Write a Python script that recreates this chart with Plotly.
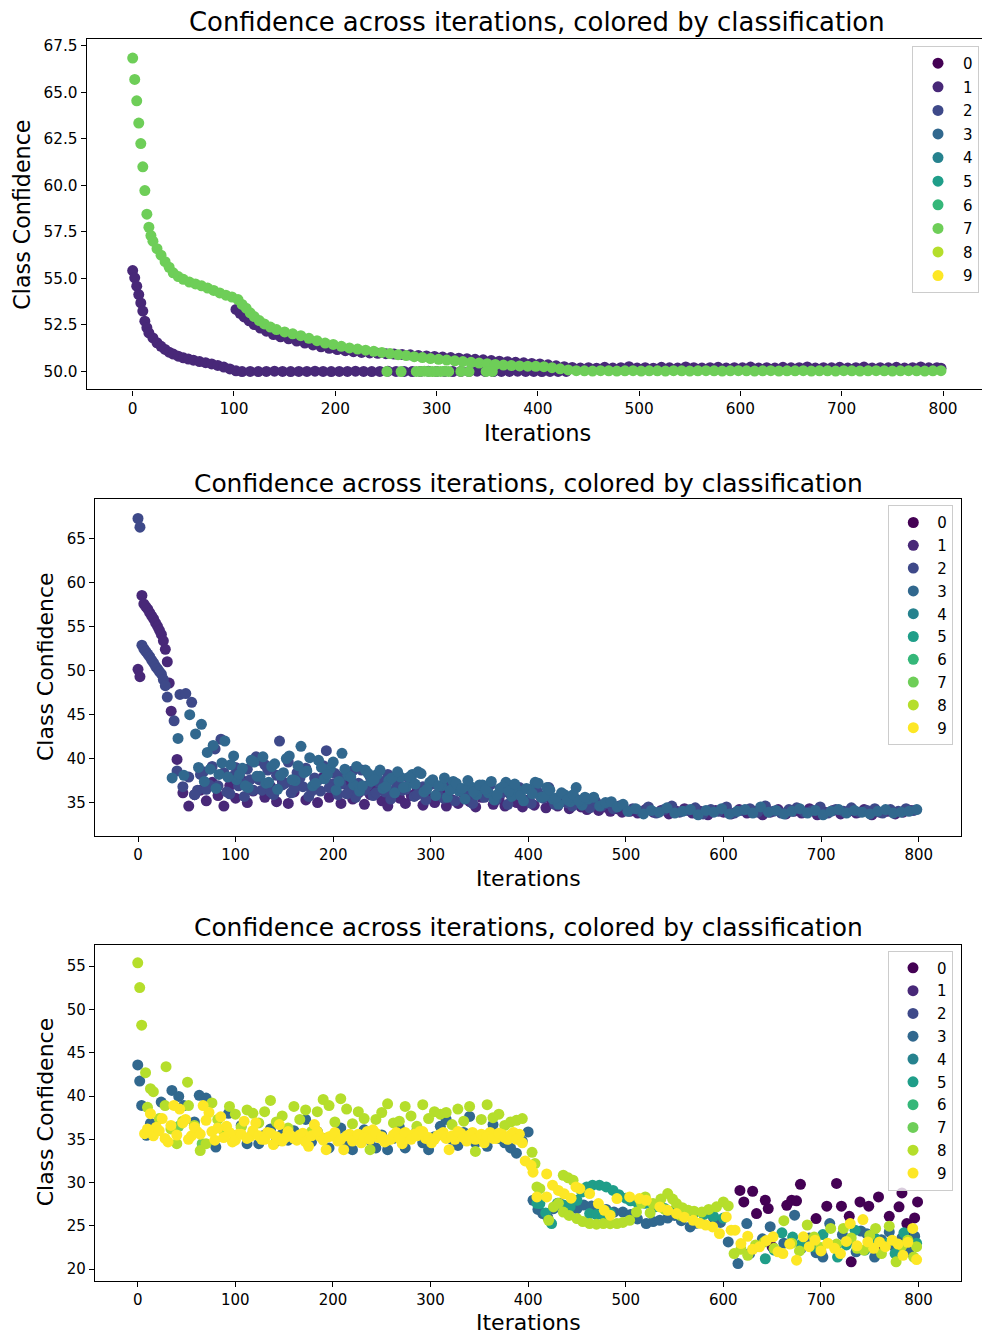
import plotly.graph_objects as go

W, H = 982, 1338
COLORS = ['#440154', '#482878', '#3e4989', '#31688e', '#26828e',
          '#1f9e89', '#35b779', '#6ece58', '#b5de2b', '#fde725']
CLASSES = [str(i) for i in range(10)]
TITLE = "Confidence across iterations, colored by classification"

# ---------------- Panel 1 ----------------
P1_C1_X = ([0, 2, 4, 6, 8, 10, 12, 14, 16, 20, 24, 28, 32, 36, 40, 45, 50, 55, 60, 66, 72, 78, 84, 90, 96, 102, 108]
           + list(range(116, 432, 8))
           + [102, 106, 110, 115, 120, 126, 132, 139, 146, 154, 162, 170, 178, 186, 194, 202, 210, 218, 226, 234,
              242, 250, 258, 266, 274, 282, 290, 298, 306, 314, 322, 330, 338, 346, 354, 362, 370, 378, 386, 394,
              402, 410, 418, 426, 434]
           + list(range(442, 800, 8)) + [798])
P1_C1_Y = ([55.42, 55.03, 54.58, 54.13, 53.68, 53.24, 52.7, 52.35, 52.07, 51.8, 51.54, 51.35, 51.18, 51.03, 50.93,
            50.82, 50.73, 50.66, 50.6, 50.53, 50.47, 50.4, 50.32, 50.23, 50.13, 50.03, 49.99]
           + [50.0, 49.99, 50.0, 50.01, 50.0, 49.99, 50.0, 50.0, 50.01, 50.0,
              49.99, 50.0, 50.0, 50.01, 50.0, 49.99, 50.0, 50.01, 50.0, 50.0,
              49.99, 50.0, 50.01, 50.0, 50.0, 49.99, 50.0, 50.0, 50.01, 50.0,
              49.99, 50.0, 50.0, 50.01, 50.0, 50.0, 49.99, 50.0, 50.0, 50.0]
           + [53.33, 53.12, 52.93, 52.72, 52.52, 52.33, 52.16, 51.98, 51.86, 51.75,
              51.63, 51.52, 51.42, 51.32, 51.24, 51.17, 51.11, 51.06, 51.02, 50.99,
              50.97, 50.95, 50.93, 50.91, 50.89, 50.86, 50.83, 50.8, 50.77, 50.74,
              50.71, 50.68, 50.65, 50.62, 50.58, 50.55, 50.52, 50.49, 50.46, 50.43,
              50.4, 50.35, 50.3, 50.25, 50.21]
           + [50.18, 50.2, 50.17, 50.22, 50.18, 50.2, 50.25, 50.18, 50.2, 50.17,
              50.22, 50.19, 50.18, 50.24, 50.2, 50.18, 50.2, 50.22, 50.18, 50.2,
              50.19, 50.23, 50.18, 50.2, 50.18, 50.22, 50.19, 50.2, 50.24, 50.18,
              50.2, 50.19, 50.22, 50.18, 50.2, 50.23, 50.18, 50.2, 50.19, 50.22,
              50.18, 50.2, 50.24, 50.19, 50.2, 50.17])

P1_C7_X = ([0, 2, 4, 6, 8, 10, 12, 14, 16, 18, 20, 24, 28, 32, 36, 40, 45, 50, 56, 62, 68, 74, 80, 86, 92, 98,
            104, 108, 112, 116, 120, 125, 130, 136, 142]
           + list(range(150, 446, 8)) + list(range(446, 800, 8))
           + [251, 265, 280, 284, 288, 292, 296, 300, 304, 308, 312, 324, 332, 349, 355])
P1_C7_Y = ([66.85, 65.7, 64.55, 63.35, 62.25, 61.0, 59.72, 58.45, 57.75, 57.3,
            57.0, 56.6, 56.25, 55.9, 55.6, 55.3, 55.1, 54.95, 54.8, 54.7,
            54.6, 54.48, 54.35, 54.22, 54.1, 54.0, 53.86, 53.6, 53.4, 53.15,
            52.95, 52.73, 52.55, 52.38, 52.25]
           + [52.12, 52.02, 51.92, 51.78, 51.65, 51.52, 51.45, 51.35, 51.26, 51.2,
              51.14, 51.08, 51.02, 50.96, 50.9, 50.85, 50.79, 50.74, 50.69, 50.65,
              50.61, 50.57, 50.53, 50.49, 50.45, 50.41, 50.37, 50.34, 50.31, 50.29,
              50.28, 50.27, 50.25, 50.2, 50.14, 50.08, 50.04]
           + [50.03, 50.02, 50.04, 50.03, 50.02, 50.03, 50.04, 50.02, 50.03, 50.03,
              50.02, 50.04, 50.03, 50.02, 50.03, 50.04, 50.03, 50.02, 50.03, 50.04,
              50.03, 50.02, 50.03, 50.04, 50.02, 50.03, 50.03, 50.04, 50.02, 50.03,
              50.03, 50.02, 50.04, 50.03, 50.02, 50.03, 50.04, 50.03, 50.02, 50.03,
              50.04, 50.03, 50.02, 50.03, 50.04]
           + [50.0, 49.99, 50.0, 50.0, 50.01, 50.0, 49.99, 50.0, 50.0, 50.01, 50.0, 50.0, 49.99, 50.0, 50.0])

# ---------------- Panel 2 ----------------
P2_C1_X = [0, 2, 4, 6, 8, 10, 12, 14, 16, 18, 20, 22, 24, 26, 28, 30, 32] + list(range(34, 500, 6)) + list(range(504, 800, 8))
P2_C1_Y = ([50.16, 49.32, 58.57, 57.6, 57.3, 57.0, 56.6, 56.25, 55.9, 55.45, 55.05, 54.6, 54.13, 53.4, 52.43, 51.02, 48.6]
           + [45.4, 39.9, 36.1, 34.6, 35.9, 36.4, 35.2, 37.3, 35.8, 34.6,
              36.9, 35.5, 37.6, 35.0, 36.3, 39.8, 35.6, 36.8, 35.1, 37.4,
              34.9, 36.2, 38.3, 35.3, 36.6, 35.0, 37.9, 35.6, 36.4, 34.9,
              37.0, 35.4, 36.1, 34.8, 35.9, 36.7, 35.2, 34.6, 36.0, 35.5,
              34.9, 35.8, 36.4, 34.7, 35.6, 35.0, 36.2, 34.6, 35.3, 34.9,
              35.9, 35.1, 34.5, 35.6, 36.3, 34.8, 35.4, 34.6, 35.9, 35.0,
              34.5, 35.3, 34.7, 35.8, 34.4, 35.1, 34.6, 35.4, 34.3, 34.9,
              34.5, 34.2, 34.8, 34.1, 34.5, 34.0, 34.3, 33.9]
           + [34.0, 33.8, 34.2, 33.9, 34.1, 33.7, 34.0, 34.3, 33.8, 34.0,
              33.6, 34.1, 33.9, 33.7, 34.2, 33.8, 34.0, 33.6, 33.9, 34.2,
              33.7, 34.0, 33.8, 34.3, 33.6, 33.9, 34.1, 33.7, 34.0, 33.8,
              34.2, 33.6, 33.9, 34.0, 33.7, 33.9, 34.1])

P2_C2_X = ([0, 2, 4, 6, 8, 10, 12, 14, 16, 18, 20, 22, 24, 26, 28, 30] + list(range(37, 499, 6))
           + list(range(507, 800, 8)) + list(range(40, 298, 6)))
P2_C2_Y = ([67.32, 66.33, 52.9, 52.5, 52.2, 51.9, 51.6, 51.2, 50.9, 50.5, 50.2, 49.9, 49.6, 49.0, 48.3, 47.0]
           + [44.3, 47.3, 47.4, 46.4, 36.4, 38.5, 37.0, 41.1, 42.2, 36.2,
              38.0, 36.9, 35.7, 37.6, 40.2, 36.4, 38.7, 35.9, 42.0, 37.2,
              36.1, 38.4, 36.8, 35.7, 37.8, 36.3, 40.9, 37.1, 35.9, 38.0,
              36.5, 35.6, 38.7, 36.9, 35.8, 37.3, 36.2, 35.4, 37.0, 36.4,
              37.8, 35.7, 36.6, 35.3, 37.1, 36.0, 35.5, 36.8, 35.2, 36.3,
              35.8, 34.9, 36.5, 35.6, 37.0, 35.3, 36.1, 34.8, 35.9, 36.7,
              35.2, 34.9, 36.3, 35.5, 36.7, 34.8, 35.6, 35.0, 34.6, 35.3,
              34.9, 34.4, 35.1, 34.6, 34.9, 34.3, 34.6]
           + [34.3, 34.0, 34.5, 33.8, 34.2, 34.6, 33.9, 34.1, 34.4, 33.7,
              34.2, 34.0, 34.5, 33.8, 34.1, 34.3, 33.9, 34.6, 34.0, 33.8,
              34.2, 34.4, 33.9, 34.1, 34.5, 33.8, 34.2, 34.0, 34.4, 33.9,
              34.1, 34.3, 33.8, 34.2, 34.0, 34.3, 34.1]
           + [38.6, 36.8, 37.9, 35.9, 38.2, 36.5, 39.1, 36.9, 38.4, 36.0,
              39.0, 37.3, 38.8, 36.4, 37.6, 39.3, 36.2, 38.1, 37.0, 39.6,
              36.6, 37.8, 38.9, 36.3, 37.5, 39.2, 36.7, 38.3, 37.1, 36.0,
              38.6, 37.2, 36.4, 37.9, 36.1, 37.4, 38.2, 36.3, 37.0, 36.5,
              37.6, 35.9, 36.8])

P2_C3_X = list(range(35, 500, 6)) + list(range(502, 800, 8)) + list(range(62, 460, 6))
P2_C3_Y = ([37.8, 42.3, 38.1, 45.0, 42.8, 43.9, 40.7, 41.5, 38.2, 42.0,
            39.3, 37.6, 38.9, 36.7, 39.6, 38.0, 37.2, 39.1, 36.5, 38.4,
            40.3, 37.5, 41.4, 38.6, 36.9, 39.8, 37.7, 38.9, 36.4, 40.6,
            38.1, 37.0, 36.3, 38.7, 37.4, 38.2, 36.6, 37.5, 36.1, 37.9,
            36.8, 38.2, 38.5, 36.2, 37.3, 35.8, 36.9, 35.6, 37.4, 36.3,
            35.4, 36.8, 35.9, 37.0, 36.1, 35.3, 36.6, 37.3, 35.7, 36.4,
            35.2, 36.5, 37.3, 35.6, 36.7, 35.4, 34.8, 35.9, 35.1, 36.7,
            34.7, 35.4, 35.6, 34.6, 35.0, 35.1, 34.5, 34.8]
           + [34.0, 34.3, 33.7, 34.1, 33.9, 34.4, 33.8, 34.0, 34.2, 33.6,
              34.1, 33.9, 34.3, 33.7, 34.0, 34.2, 33.8, 34.5, 33.9, 34.1,
              33.7, 34.0, 34.3, 33.8, 34.1, 33.6, 34.0, 34.2, 33.8, 34.1,
              33.9, 33.7, 34.0, 34.2, 33.8, 33.9, 34.0, 34.2]
           + [39.0, 37.4, 38.8, 36.6, 39.5, 37.9, 40.3, 38.2, 36.9, 39.8,
              38.0, 40.2, 37.3, 39.4, 38.1, 40.0, 37.6, 39.2, 38.4, 40.1,
              37.2, 39.0, 38.2, 39.6, 37.4, 38.8, 37.9, 39.1, 36.9, 38.3,
              37.6, 38.7, 36.8, 37.8, 38.5, 36.7, 37.9, 37.1, 38.3, 36.5,
              37.6, 36.9, 37.8, 36.4, 37.2, 36.6, 37.5, 36.2, 37.0, 36.5,
              37.4, 35.9, 36.8, 36.3, 37.1, 35.8, 36.6, 36.0, 37.2, 35.7,
              36.4, 35.5, 36.1, 35.3, 35.9, 35.2, 35.6])

# ---------------- Panel 3 ----------------
P3_C0_X = [617, 621, 630, 634, 643, 646, 650, 665, 670, 675, 679, 690, 695, 700, 706, 716, 721, 729, 731, 740,
           749, 759, 760, 770, 780, 783, 784, 788, 791, 796, 799]
P3_C0_Y = [29.1, 27.77, 29.0, 26.42, 27.96, 27.0, 22.6, 27.38, 27.96, 27.9, 29.8, 23.5, 25.84, 21.9, 27.27, 29.9,
           27.27, 26.1, 20.85, 27.77, 27.27, 28.34, 22.9, 26.1, 27.2, 28.8, 22.19, 25.27, 24.12, 25.92, 27.77]

P3_C3_X = ([0, 2, 4, 9, 13, 24, 35, 42, 47, 58, 63, 70, 80, 93] + list(range(100, 400, 6))
           + [400, 405, 410, 415, 420, 426, 432, 438, 444, 450, 457, 465, 472, 480, 488, 497, 505, 512, 521, 528,
              535, 543, 550, 557, 566, 572, 583, 590, 597, 605]
           + [615, 624, 627, 634, 640, 648, 655, 662, 673, 680, 688, 695, 702, 709, 716, 722, 730, 736, 741, 747,
              755, 762, 770, 776, 783, 790, 796])
P3_C3_Y = ([43.6, 41.73, 38.92, 35.46, 36.85, 39.3, 40.65, 39.96, 38.9, 37.0, 40.08, 39.77, 34.1, 38.0]
           + [35.4, 36.6, 34.5, 35.7, 34.5, 35.5, 36.2, 34.8, 35.6, 34.9,
              36.0, 35.2, 37.3, 34.7, 35.9, 35.1, 34.0, 35.6, 36.3, 34.8,
              33.8, 35.4, 36.1, 34.9, 34.0, 35.5, 33.8, 35.1, 36.4, 34.0,
              35.2, 36.0, 34.6, 33.8, 35.3, 36.5, 37.3, 35.0, 34.3, 35.8,
              37.65, 34.6, 35.4, 34.2, 36.7, 35.1, 34.6, 34.0, 33.4, 34.8]
           + [35.85, 27.96, 26.9, 26.42, 26.0, 26.99, 27.6, 27.3, 27.0, 27.0, 27.4, 27.3, 27.0, 26.9, 26.6, 26.6,
              26.3, 25.8, 25.27, 25.5, 25.65, 25.9, 26.2, 25.6, 24.88, 25.3, 26.6, 25.9, 25.4, 23.15]
           + [20.65, 25.27, 21.8, 22.6, 23.5, 24.9, 22.1, 23.0, 26.23, 22.4, 23.6, 21.9, 21.4, 25.27, 22.8, 24.0,
              23.35, 22.0, 24.4, 24.1, 21.4, 23.4, 24.3, 22.5, 23.6, 22.0, 23.8])

P3_C5_X = [409, 412, 418, 424, 430, 436, 443, 450, 455, 460, 466, 473, 480, 487, 493, 500, 463, 470, 477, 484,
           505, 512, 520, 530, 540, 550, 560, 570, 580, 590, 600,
           643, 652, 660, 671, 680, 692, 702, 717, 726, 735, 745, 755, 767, 776, 785, 798]
P3_C5_Y = [27.6, 27.58, 26.5, 25.27, 27.6, 27.4, 27.2, 27.96, 28.9, 29.5, 29.7, 29.7, 29.5, 29.1, 28.6, 28.2,
           26.42, 26.3, 26.2, 26.5, 27.9, 27.7, 27.6, 27.2, 27.0, 26.8, 26.6, 26.5, 26.3, 26.1, 25.9,
           21.2, 22.2, 24.2, 23.7, 22.9, 22.6, 24.0, 21.4, 22.8, 24.5, 22.2, 23.6, 22.96, 21.8, 24.2, 23.0]

P3_C7_X = [42, 66]
P3_C7_Y = [36.5, 34.5]

P3_C8_X = ([0, 2, 4, 8, 13, 29, 51] + list(range(10, 400, 6))
           + [404, 407, 409, 412, 421, 426, 431, 436, 441, 446, 436, 442, 450, 456, 463, 470, 477, 484, 491, 497,
              504, 511, 516, 520, 525, 528, 536, 540, 543, 548, 552, 556, 558, 564, 570, 578, 585, 593, 600, 605]
           + [611, 618, 625, 633, 642, 652, 662, 670, 678, 686, 693, 700, 710, 716, 723, 731, 737, 744, 750, 756,
              762, 770, 777, 783, 789, 795, 798])
P3_C8_Y = ([55.39, 52.54, 48.19, 42.7, 40.85, 43.39, 41.6]
           + [38.7, 40.5, 37.4, 38.9, 36.2, 34.5, 37.1, 38.9, 36.6, 33.7,
              34.5, 39.2, 37.3, 36.0, 38.8, 37.9, 36.4, 38.4, 38.0, 36.9,
              38.2, 39.5, 37.0, 37.7, 36.3, 38.8, 37.3, 38.4, 35.9, 38.2,
              39.6, 38.9, 37.0, 39.7, 38.5, 36.8, 38.2, 37.4, 33.8, 37.3,
              38.1, 39.1, 36.9, 37.1, 38.8, 37.7, 36.5, 39.0, 37.4, 38.2,
              37.9, 38.1, 36.7, 38.5, 37.1, 38.8, 33.6, 37.3, 39.0, 37.5,
              37.9, 36.6, 37.0, 37.2, 37.4]
           + [33.5, 32.2, 29.5, 29.3, 25.65, 27.19, 27.6, 30.85, 30.55, 30.27, 26.6, 26.2, 25.84, 25.5, 25.27,
              25.2, 25.27, 25.25, 25.27, 25.4, 25.65, 26.6, 27.6, 28.34, 26.5, 27.58, 28.1, 26.9, 28.73, 28.1,
              27.58, 26.2, 27.1, 26.8, 26.7, 26.6, 26.9, 27.2, 27.77, 27.3]
           + [21.8, 22.3, 21.6, 22.8, 23.15, 22.4, 25.6, 23.0, 22.1, 25.1, 23.7, 22.5, 24.7, 22.9, 24.7, 23.6,
              22.4, 22.2, 23.9, 24.7, 21.8, 24.96, 20.85, 22.7, 23.35, 21.4, 22.6])

P3_C9_X = (list(range(7, 400, 6))
           + [403, 405, 409, 419, 419, 425, 431, 437, 444, 449, 453, 463, 472, 478, 484, 491, 504, 514, 521, 535,
              543, 552, 560, 569, 576, 582, 589, 596, 603, 608]
           + [612, 618, 625, 630, 637, 644, 651, 656, 661, 668, 675, 682, 688, 694, 700, 707, 714, 720, 726, 730,
              737, 743, 748, 754, 760, 766, 773, 779, 784, 789, 794, 798]
           + list(range(10, 400, 6)))
P3_C9_Y = ([35.65, 37.96, 36.4, 37.4, 34.7, 38.92, 38.5, 37.3, 35.4, 35.9,
            38.9, 38.1, 34.9, 37.6, 36.5, 34.7, 35.6, 37.1, 35.3, 36.9,
            35.0, 35.8, 34.4, 36.7, 35.2, 35.4, 34.9, 35.7, 34.2, 36.7,
            35.3, 33.8, 35.4, 34.8, 33.8, 35.6, 35.1, 34.6, 35.9, 36.1,
            35.2, 34.7, 35.0, 35.8, 34.5, 35.3, 35.6, 35.9, 35.1, 34.6,
            35.4, 35.8, 33.8, 35.0, 35.7, 34.8, 35.8, 35.3, 34.6, 35.8,
            35.1, 35.6, 35.0, 35.8, 35.6, 32.5]
           + [32.0, 31.2, 28.34, 31.0, 28.34, 29.7, 29.1, 28.7, 28.2, 29.5, 29.3, 28.73, 27.58, 26.8, 26.23,
              28.15, 28.34, 28.15, 27.96, 27.19, 26.8, 26.42, 26.0, 25.65, 25.3, 25.1, 24.88, 24.12, 26.03, 24.5]
           + [24.5, 22.96, 23.8, 22.3, 22.58, 23.3, 23.73, 22.0, 21.8, 22.9, 21.04, 23.73, 22.6, 23.35, 22.1, 23.0,
              22.4, 21.8, 23.2, 25.27, 22.7, 25.73, 23.15, 22.4, 23.15, 22.6, 23.35, 22.9, 21.6, 23.1, 24.7, 21.1]
           + [36.2, 35.4, 36.0, 35.1, 36.6, 35.5, 36.9, 35.0, 36.4, 35.6,
              37.2, 35.9, 36.3, 35.2, 35.8, 34.9, 35.6, 35.1, 36.0, 35.4,
              35.0, 35.7, 35.3, 34.8, 35.9, 35.1, 35.5, 34.7, 35.4, 35.9,
              34.9, 35.3, 35.8, 35.0, 35.4, 34.8, 35.6, 35.2, 35.0, 35.7,
              35.3, 34.9, 35.5, 35.1, 35.8, 35.0, 35.4, 35.9, 35.2, 35.0,
              35.6, 35.1, 35.4, 35.9, 35.2, 35.5, 35.0, 35.6, 35.3, 35.1,
              35.7, 35.2, 35.5, 35.0, 34.6])

PANELS = [
    {1: (P1_C1_X, P1_C1_Y), 7: (P1_C7_X, P1_C7_Y)},
    {1: (P2_C1_X, P2_C1_Y), 2: (P2_C2_X, P2_C2_Y), 3: (P2_C3_X, P2_C3_Y)},
    {0: (P3_C0_X, P3_C0_Y), 3: (P3_C3_X, P3_C3_Y), 5: (P3_C5_X, P3_C5_Y),
     7: (P3_C7_X, P3_C7_Y), 8: (P3_C8_X, P3_C8_Y), 9: (P3_C9_X, P3_C9_Y)},
]
for pdata in PANELS:
    for c, (xs, ys) in pdata.items():
        assert len(xs) == len(ys), (c, len(xs), len(ys))

# ---------------- geometry (pixels) ----------------
def px(x):
    return x / W

def py(y):
    return 1 - y / H

FONT = "DejaVu Sans"
AX = [
    dict(xd=[86.7, 982], yd=[388, 37.3], xr=[-45.4, 838.5], yr=[49.03, 67.86], dt=2.5, fmt=".1f", t0=50,
         title=(537, 20, 25.9), xl=(537, 432, 22.5), yl=(22, 213, 22.2), leg=(979, 44), gap=1.1,
         tick=15.3, mirror_y=False, iw=40),
    dict(xd=[95, 961], yd=[835, 498], xr=[-44.06, 843.3], yr=[31.22, 69.51], dt=5, fmt="d", t0=35,
         title=(528, 482, 24.9), xl=(528, 878, 22), yl=(45, 666, 22), leg=(953.3, 504), gap=0.3,
         tick=15, mirror_y=True, iw=38),
    dict(xd=[95, 961], yd=[1281, 944], xr=[-43.8, 843.5], yr=[18.62, 57.5], dt=5, fmt="d", t0=20,
         title=(528, 927, 24.9), xl=(528, 1322, 22), yl=(45, 1112, 22), leg=(953, 950), gap=0.3,
         tick=15, mirror_y=True, iw=38),
]

fig = go.Figure()
annotations = []
layout = dict(width=W, height=H, margin=dict(l=0, r=0, t=0, b=0),
              paper_bgcolor="white", plot_bgcolor="white",
              font=dict(family=FONT, color="black", size=14.5), showlegend=True)

for i, (pdata, ax) in enumerate(zip(PANELS, AX)):
    n = "" if i == 0 else str(i + 1)
    legname = "legend" + n
    for c in range(10):
        xs, ys = pdata.get(c, ([None], [None]))
        fig.add_trace(go.Scatter(
            x=xs, y=ys, mode="markers", name=CLASSES[c],
            marker=dict(color=COLORS[c], size=11, line=dict(width=0)),
            xaxis="x" + n, yaxis="y" + n, legend=legname,
            legendgroup=f"p{i}c{c}", showlegend=True, hoverinfo="x+y+name"))
    common = dict(showline=True, linecolor="black", linewidth=1.2, ticks="outside", ticklen=5,
                  tickwidth=1.2, tickcolor="black", showgrid=False, zeroline=False,
                  tickfont=dict(family=FONT, size=ax["tick"], color="black"))
    layout["xaxis" + n] = dict(common, domain=[px(ax["xd"][0]), px(ax["xd"][1])], range=ax["xr"],
                               anchor="y" + n, tick0=0, dtick=100, mirror=True)
    layout["yaxis" + n] = dict(common, domain=[py(ax["yd"][0]), py(ax["yd"][1])], range=ax["yr"],
                               anchor="x" + n, tick0=ax["t0"], dtick=ax["dt"], tickformat=ax["fmt"],
                               mirror=ax["mirror_y"])
    layout[legname] = dict(x=px(ax["leg"][0]), y=py(ax["leg"][1]), xanchor="right", yanchor="top",
                           bgcolor="rgba(255,255,255,0.8)", bordercolor="#cccccc", borderwidth=1,
                           font=dict(family=FONT, size=15, color="black"),
                           traceorder="grouped", tracegroupgap=ax["gap"], itemwidth=ax["iw"])
    tx, ty, ts = ax["title"]
    annotations.append(dict(text=TITLE, x=px(tx), y=py(ty), xref="paper", yref="paper", showarrow=False,
                            xanchor="center", yanchor="middle", font=dict(family=FONT, size=ts, color="black")))
    lx, ly, ls = ax["xl"]
    annotations.append(dict(text="Iterations", x=px(lx), y=py(ly), xref="paper", yref="paper", showarrow=False,
                            xanchor="center", yanchor="middle", font=dict(family=FONT, size=ls, color="black")))
    yx, yy, ys_ = ax["yl"]
    annotations.append(dict(text="Class Confidence", x=px(yx), y=py(yy), xref="paper", yref="paper",
                            showarrow=False, textangle=-90, xanchor="center", yanchor="middle",
                            font=dict(family=FONT, size=ys_, color="black")))

layout["annotations"] = annotations
fig.update_layout(**layout)
fig.write_html("out.html", config={"displayModeBar": False},
               post_script="document.body.style.margin='0';document.body.style.padding='0';"
                           "document.documentElement.style.overflow='hidden';")
